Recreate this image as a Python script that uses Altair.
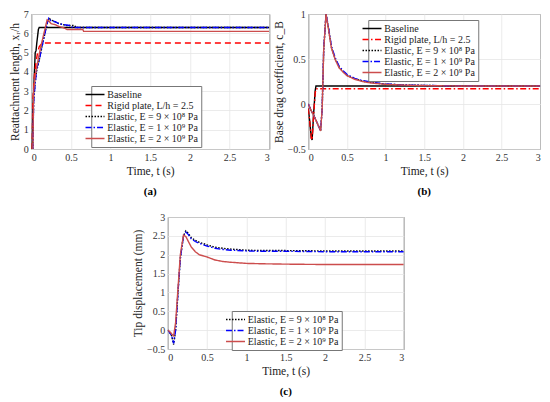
import altair as alt
import pandas as pd

# ---------------- data ----------------
NAMES5 = ["Baseline", "Rigid plate, L/h = 2.5", "Elastic, E = 9 × 10⁸ Pa",
          "Elastic, E = 1 × 10⁹ Pa", "Elastic, E = 2 × 10⁹ Pa"]
NAMES3 = NAMES5[2:]

# (a) reattachment length x_r/h
a_base_t = [0.01, 0.02, 0.04, 0.05, 0.06, 0.07, 0.09, 0.10, 3.0]
a_base_y = [0.0, 2.0, 4.0, 5.0, 5.1, 5.5, 6.2, 6.3, 6.3]
a_rigid_t = [0.01, 0.02, 0.04, 0.06, 0.08, 0.10, 0.12, 0.15, 3.0]
a_rigid_y = [0.0, 2.5, 3.8, 4.5, 5.0, 5.3, 5.4, 5.5, 5.5]
a_e9_t = [0.02, 0.03, 0.05, 0.07, 0.10, 0.15, 0.20, 0.23, 0.25, 0.30, 0.35, 0.40, 0.45, 0.55, 0.56, 3.0]
a_e9_y = [0.0, 2.5, 3.5, 4.1, 4.6, 5.6, 6.5, 6.75, 6.7, 6.6, 6.5, 6.45, 6.4, 6.4, 6.3, 6.3]
a_e1_t = [0.02, 0.03, 0.05, 0.07, 0.10, 0.15, 0.20, 0.22, 0.25, 0.30, 0.35, 0.40, 0.50, 0.52, 3.0]
a_e1_y = [0.0, 2.4, 3.4, 4.2, 4.6, 5.6, 6.5, 6.78, 6.65, 6.6, 6.5, 6.45, 6.4, 6.3, 6.3]
a_e2_t = [0.02, 0.03, 0.05, 0.08, 0.12, 0.16, 0.20, 0.22, 0.25, 0.30, 0.35, 0.40, 0.45, 0.65, 0.66, 3.0]
a_e2_y = [0.0, 3.0, 3.8, 4.5, 5.3, 6.0, 6.7, 6.65, 6.5, 6.45, 6.35, 6.3, 6.2, 6.2, 6.1, 6.1]

# (b) base drag coefficient c_B
b_base_t = [0.0, 0.02, 0.04, 0.05, 0.07, 0.09, 0.10, 3.0]
b_base_y = [-0.05, -0.2, -0.38, -0.4, -0.1, 0.15, 0.2, 0.2]
b_rigid_t = [0.0, 0.02, 0.04, 0.05, 0.07, 0.09, 0.10, 3.0]
b_rigid_y = [-0.05, -0.2, -0.38, -0.4, -0.12, 0.12, 0.17, 0.17]
b_el_t = [0.0, 0.03, 0.06, 0.10, 0.16, 0.18, 0.20, 0.23, 0.26, 0.30, 0.35, 0.40, 0.45, 0.50,
          0.60, 0.70, 0.80, 1.00, 1.30, 1.60, 2.00, 3.00]
b_e9_y = [0.0, -0.06, -0.11, -0.18, -0.30, -0.05, 0.60, 1.0, 0.85, 0.63, 0.50, 0.41, 0.36, 0.32,
          0.28, 0.255, 0.24, 0.22, 0.21, 0.205, 0.20, 0.20]
b_e1_y = [0.0, -0.06, -0.11, -0.18, -0.30, -0.05, 0.62, 1.0, 0.86, 0.64, 0.51, 0.42, 0.37, 0.33,
          0.285, 0.26, 0.245, 0.222, 0.21, 0.205, 0.20, 0.20]
b_e2_y = [0.0, -0.06, -0.11, -0.18, -0.30, -0.05, 0.60, 1.0, 0.84, 0.62, 0.49, 0.40, 0.355, 0.315,
          0.275, 0.25, 0.235, 0.218, 0.208, 0.203, 0.20, 0.20]

# (c) tip displacement (mm)
c_t = [0.0, 0.03, 0.05, 0.075, 0.10, 0.13, 0.16, 0.20, 0.23, 0.26, 0.30, 0.35, 0.40, 0.50,
       0.60, 0.70, 0.80, 1.00, 1.20, 1.50, 2.00, 2.50, 3.00]
c_e9_y = [0.0, -0.08, -0.15, -0.38, 0.0, 1.0, 1.9, 2.5, 2.63, 2.57, 2.45, 2.38, 2.33, 2.26,
          2.20, 2.17, 2.15, 2.12, 2.11, 2.11, 2.10, 2.10, 2.10]
c_e1_y = [0.0, -0.08, -0.15, -0.35, 0.0, 1.0, 1.9, 2.5, 2.60, 2.54, 2.42, 2.35, 2.30, 2.23,
          2.17, 2.14, 2.12, 2.10, 2.09, 2.09, 2.08, 2.08, 2.08]
c_e2_y = [0.0, -0.05, -0.10, -0.15, 0.2, 1.1, 2.0, 2.52, 2.48, 2.36, 2.20, 2.08, 2.00, 1.94,
          1.86, 1.82, 1.80, 1.77, 1.76, 1.75, 1.74, 1.74, 1.74]

X_TICKS = [0, 0.5, 1, 1.5, 2, 2.5, 3]

COL5 = ["#000000", "#ff0000", "#000000", "#0000ff", "#cc4d4d"]
DASH_A = [[1, 0], [6, 4], [1.5, 1.5], [6, 2, 1.5, 2], [1, 0]]
DASH_B = [[1, 0], [6, 2.5, 1.5, 2.5], [1.5, 1.5], [6, 2, 1.5, 2], [1, 0]]

SERIF = "Liberation Serif"
LEG_SYMBOL = "M-3,0H1"


def add_rows(rows, panel_id, pairs, names):
    for (ts, ys), n in zip(pairs, names):
        for t, y in zip(ts, ys):
            rows.append({"panel": panel_id, "t": t, "y": y, "series": n})


rows = []
add_rows(rows, "a", [(a_base_t, a_base_y), (a_rigid_t, a_rigid_y), (a_e9_t, a_e9_y),
                     (a_e1_t, a_e1_y), (a_e2_t, a_e2_y)], NAMES5)
add_rows(rows, "b", [(b_base_t, b_base_y), (b_rigid_t, b_rigid_y), (b_el_t, b_e9_y),
                     (b_el_t, b_e1_y), (b_el_t, b_e2_y)], NAMES5)
add_rows(rows, "c", [(c_t, c_e9_y), (c_t, c_e1_y), (c_t, c_e2_y)], NAMES3)
df_all = pd.DataFrame(rows)


def panel(pid, names, colors, dashes, ytitle, ydom, yticks, lx, ly, caption, w, h):
    leg = alt.Legend(orient="none", legendX=lx, legendY=ly, title=None,
                     symbolType=LEG_SYMBOL, symbolSize=90, symbolStrokeWidth=1.5,
                     labelFont=SERIF, labelFontSize=10, labelColor="#222",
                     fillColor="white", strokeColor="#777", padding=3,
                     rowPadding=0, labelOffset=2, labelLimit=300, cornerRadius=0)
    return alt.Chart(df_all).transform_filter(
        alt.datum.panel == pid
    ).mark_line(clip=True, strokeWidth=1.4).encode(
        x=alt.X("t:Q", scale=alt.Scale(domain=[0, 3], nice=False),
                axis=alt.Axis(title="Time, t (s)", values=X_TICKS, format="~g")),
        y=alt.Y("y:Q", scale=alt.Scale(domain=ydom, nice=False, zero=False),
                axis=alt.Axis(title=ytitle, values=yticks, format="~g")),
        color=alt.Color("series:N", scale=alt.Scale(domain=names, range=colors), legend=leg),
        strokeDash=alt.StrokeDash("series:N", scale=alt.Scale(domain=names, range=dashes), legend=leg),
        order=alt.Order("t:Q"),
    ).properties(
        width=w, height=h,
        title=alt.TitleParams(caption, orient="bottom", fontWeight="bold", font=SERIF,
                              fontSize=11, offset=9, anchor="middle", frame="group"),
    )


pa = panel("a", NAMES5, COL5, DASH_A, "Reattachment length, xᵣ/h", [0, 7],
           list(range(8)), 60, 72, "(a)", 238, 135)
pb = panel("b", NAMES5, COL5, DASH_B, "Base drag coefficient, c_B", [-0.5, 1.0],
           [-0.5, 0, 0.5, 1], 60, 6, "(b)", 232, 135)
pc = panel("c", NAMES3, COL5[2:], DASH_A[2:], "Tip displacement (mm)", [-0.5, 3],
           [-0.5, 0, 0.5, 1, 1.5, 2, 2.5, 3], 64, 94, "(c)", 236, 132)

IND = dict(color="independent", strokeDash="independent")

top = alt.hconcat(pa, pb, spacing=2).resolve_scale(**IND).resolve_legend(**IND)

chart = alt.vconcat(
    top,
    pc,
    spacing=14,
    center=True,
).resolve_scale(**IND).resolve_legend(**IND).properties(
    padding={"left": 0, "top": 0, "right": 0, "bottom": 0}
).configure_view(
    stroke="#555", strokeWidth=1
).configure_axis(
    labelFont=SERIF, labelFontSize=10, labelColor="#333",
    titleFont=SERIF, titleFontSize=11.5, titleFontWeight="normal", titleColor="#222",
    grid=True, gridColor="#e6e6e6", gridWidth=0.8,
    domain=False, ticks=False, labelPadding=3, titlePadding=3,
).configure_legend(
    labelFont=SERIF, labelFontSize=10, fillColor="white", strokeColor="#777",
    padding=3, cornerRadius=0
)

chart.save("out.html", embed_options={"renderer": "svg", "actions": False})
